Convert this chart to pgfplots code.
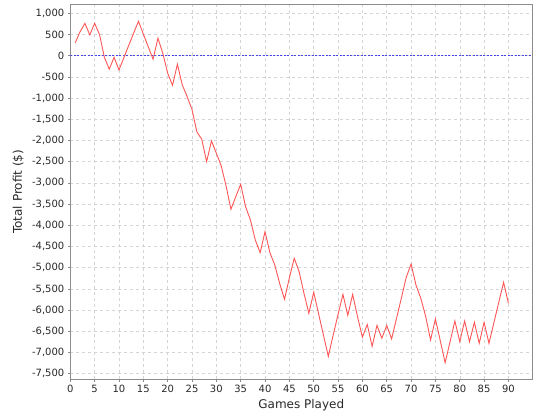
\documentclass[border=0pt]{standalone}
\usepackage{fontspec}
\setmainfont{DejaVu Sans}
\usepackage{pgfplots}
\pgfplotsset{compat=1.18}
\definecolor{linered}{RGB}{255,85,85}
\definecolor{gridgray}{RGB}{212,212,212}
\definecolor{zeroblue}{RGB}{70,70,230}
\definecolor{labgray}{RGB}{40,40,40}
\definecolor{axgray}{RGB}{140,140,140}
\begin{document}
\begin{tikzpicture}
\useasboundingbox (-70.3bp,-41bp) rectangle (469.7bp,379bp);
\begin{axis}[
  scale only axis,
  width=462bp, height=374.3bp,
  at={(0,0)}, anchor=south west,
  xmin=0, xmax=94.9,
  ymin=-7625, ymax=1200,
  xtick={0,5,...,90},
  ytick={-7500,-7000,...,1000},
  /pgf/number format/assume math mode=true,
  /pgf/number format/1000 sep={,},
  xticklabel style={/pgf/number format/1000 sep={}},
  tick label style={font=\fontsize{10bp}{12bp}\selectfont, text=labgray},
  label style={font=\fontsize{12bp}{14bp}\selectfont, text=labgray},
  tick align=outside,
  major tick length=2.5bp,
  tick style={axgray, line width=0.6bp},
  xtick pos=bottom, ytick pos=left,
  axis line style={axgray, line width=0.8bp},
  grid=major,
  major grid style={gridgray, dash pattern=on 3bp off 3bp, line width=0.5bp},
  xlabel={Games Played},
  ylabel={Total Profit (\$)},
  x label style={at={(axis description cs:0.5,-0.0695)}, anchor=center},
  y label style={at={(axis description cs:-0.1126,0.5)}, anchor=center},
  clip=true,
]
\addplot[zeroblue, line width=0.6bp, dash pattern=on 2bp off 1.5bp, forget plot] coordinates {(0,0) (94.9,0)};
\addplot[linered, line width=0.9bp, mark=none] coordinates {
(1,300) (2,560) (3,760) (4,490) (5,760) (6,500) (7,-40) (8,-320) (9,-40) (10,-340)
(11,-50) (12,240) (13,525) (14,810) (15,510) (16,210) (17,-85) (18,410) (19,57) (20,-415)
(21,-700) (22,-203) (23,-690) (24,-967) (25,-1270) (26,-1800) (27,-1970) (28,-2500) (29,-2012) (30,-2302)
(31,-2600) (32,-3070) (33,-3623) (34,-3325) (35,-3033) (36,-3561) (37,-3875) (38,-4347) (39,-4646) (40,-4151)
(41,-4646) (42,-4936) (43,-5368) (44,-5745) (45,-5240) (46,-4778) (47,-5094) (48,-5604) (49,-6076) (50,-5580)
(51,-6085) (52,-6590) (53,-7090) (54,-6590) (55,-6105) (56,-5630) (57,-6125) (58,-5630) (59,-6156) (60,-6640)
(61,-6340) (62,-6855) (63,-6360) (64,-6665) (65,-6360) (66,-6680) (67,-6200) (68,-5720) (69,-5230) (70,-4913)
(71,-5408) (72,-5722) (73,-6150) (74,-6705) (75,-6210) (76,-6725) (77,-7240) (78,-6750) (79,-6257) (80,-6745)
(81,-6257) (82,-6745) (83,-6288) (84,-6784) (85,-6288) (86,-6784) (87,-6304) (88,-5825) (89,-5345) (90,-5840)
};
\end{axis}
\end{tikzpicture}
\end{document}
